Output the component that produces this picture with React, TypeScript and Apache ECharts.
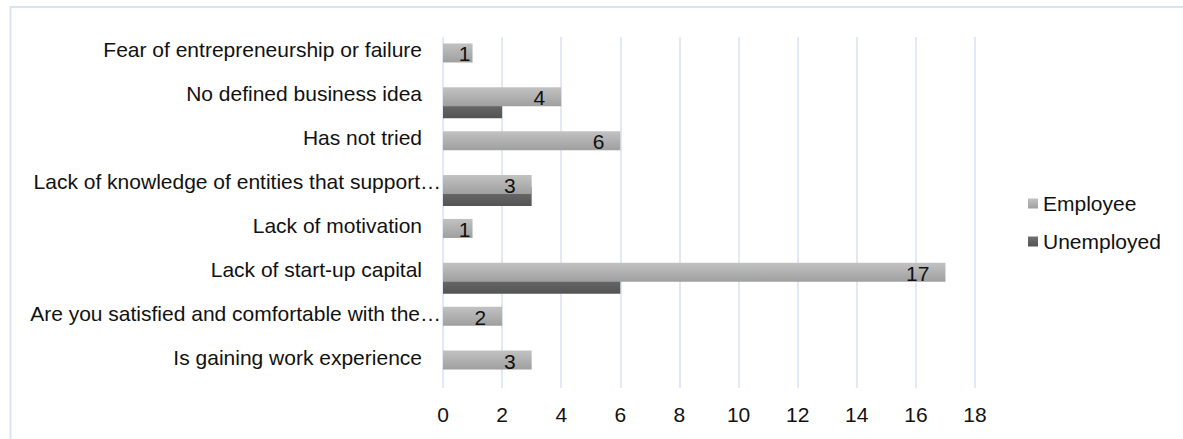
import React, { useEffect, useRef } from "react";
import * as echarts from "echarts";

// Reasons for not starting a business, by employment status (bottom to top)
const categories = [
  "Is gaining work experience",
  "Are you satisfied and comfortable with the…",
  "Lack of start-up capital",
  "Lack of motivation",
  "Lack of knowledge of entities that support…",
  "Has not tried",
  "No defined business idea",
  "Fear of entrepreneurship or failure",
];
const employee = [3, 2, 17, 1, 3, 6, 4, 1];
const unemployed = [0, 0, 6, 0, 3, 0, 2, 0];
const xTicks = { min: 0, max: 18, interval: 2 };

const FONT = "'Liberation Sans', Arial, sans-serif";
const FS = 21;

export default function App() {
  const ref = useRef<HTMLDivElement>(null);

  useEffect(() => {
    if (!ref.current) return;
    const chart = echarts.init(ref.current, undefined, { renderer: "svg" });

    const employeeFill = new echarts.graphic.LinearGradient(0, 0, 0, 1, [
      { offset: 0, color: "#c2c2c2" },
      { offset: 1, color: "#9f9f9f" },
    ]);
    const unemployedFill = new echarts.graphic.LinearGradient(0, 0, 0, 1, [
      { offset: 0, color: "#707070" },
      { offset: 1, color: "#535353" },
    ]);

    // short bars get their value label pulled closer to the bar end
    const employeeData = employee.map((v) => ({
      value: v,
      label: { distance: v < 2 ? 2 : 16 },
    }));

    chart.setOption({
      animation: false,
      backgroundColor: "#ffffff",
      textStyle: { fontFamily: FONT },
      graphic: [
        {
          type: "rect",
          shape: { x: 10.5, y: 7, width: 1400, height: 800 },
          style: { fill: "none", stroke: "#d9e3f1", lineWidth: 2 },
          silent: true,
        },
      ],
      grid: { left: 443, right: 208, top: 37, bottom: 51, containLabel: false },
      legend: {
        orient: "vertical",
        left: 1028,
        top: 193,
        itemWidth: 10,
        itemHeight: 10,
        itemGap: 17,
        icon: "rect",
        padding: 0,
        data: ["Employee", "Unemployed"],
        textStyle: { fontSize: FS, color: "#111", fontFamily: FONT },
      },
      xAxis: {
        type: "value",
        min: xTicks.min,
        max: xTicks.max,
        interval: xTicks.interval,
        axisLine: { show: false },
        axisTick: { show: false },
        axisLabel: { fontSize: FS, color: "#111", margin: 16, fontFamily: FONT },
        splitLine: { show: true, lineStyle: { color: "#d6e2f2", width: 1.5 } },
      },
      yAxis: {
        type: "category",
        data: categories,
        axisLine: { show: false },
        axisTick: { show: false },
        splitLine: { show: false },
        axisLabel: {
          margin: 2,
          color: "#111",
          fontSize: FS,
          fontFamily: FONT,
          formatter: (v: string) => (v.endsWith("…") ? `{t|${v}}` : `{n|${v}}`),
          rich: {
            t: { fontSize: FS, color: "#111", fontFamily: FONT, padding: [0, 0, 18, 0] },
            n: { fontSize: FS, color: "#111", fontFamily: FONT, padding: [0, 19, 18, 0] },
          },
        },
      },
      series: [
        {
          name: "Employee",
          type: "bar",
          data: employeeData,
          barWidth: 19,
          barGap: "-37%",
          z: 3,
          itemStyle: { color: employeeFill },
          label: {
            show: true,
            position: "insideRight",
            color: "#111",
            fontSize: FS,
            fontFamily: FONT,
            offset: [0, 1],
          },
        },
        {
          name: "Unemployed",
          type: "bar",
          data: unemployed,
          barWidth: 19,
          barGap: "-37%",
          z: 2,
          itemStyle: { color: unemployedFill },
        },
      ],
    });

    return () => chart.dispose();
  }, []);

  return (
    <div
      ref={ref}
      style={{ position: "absolute", left: 0, top: 0, width: 1183, height: 439 }}
    />
  );
}
